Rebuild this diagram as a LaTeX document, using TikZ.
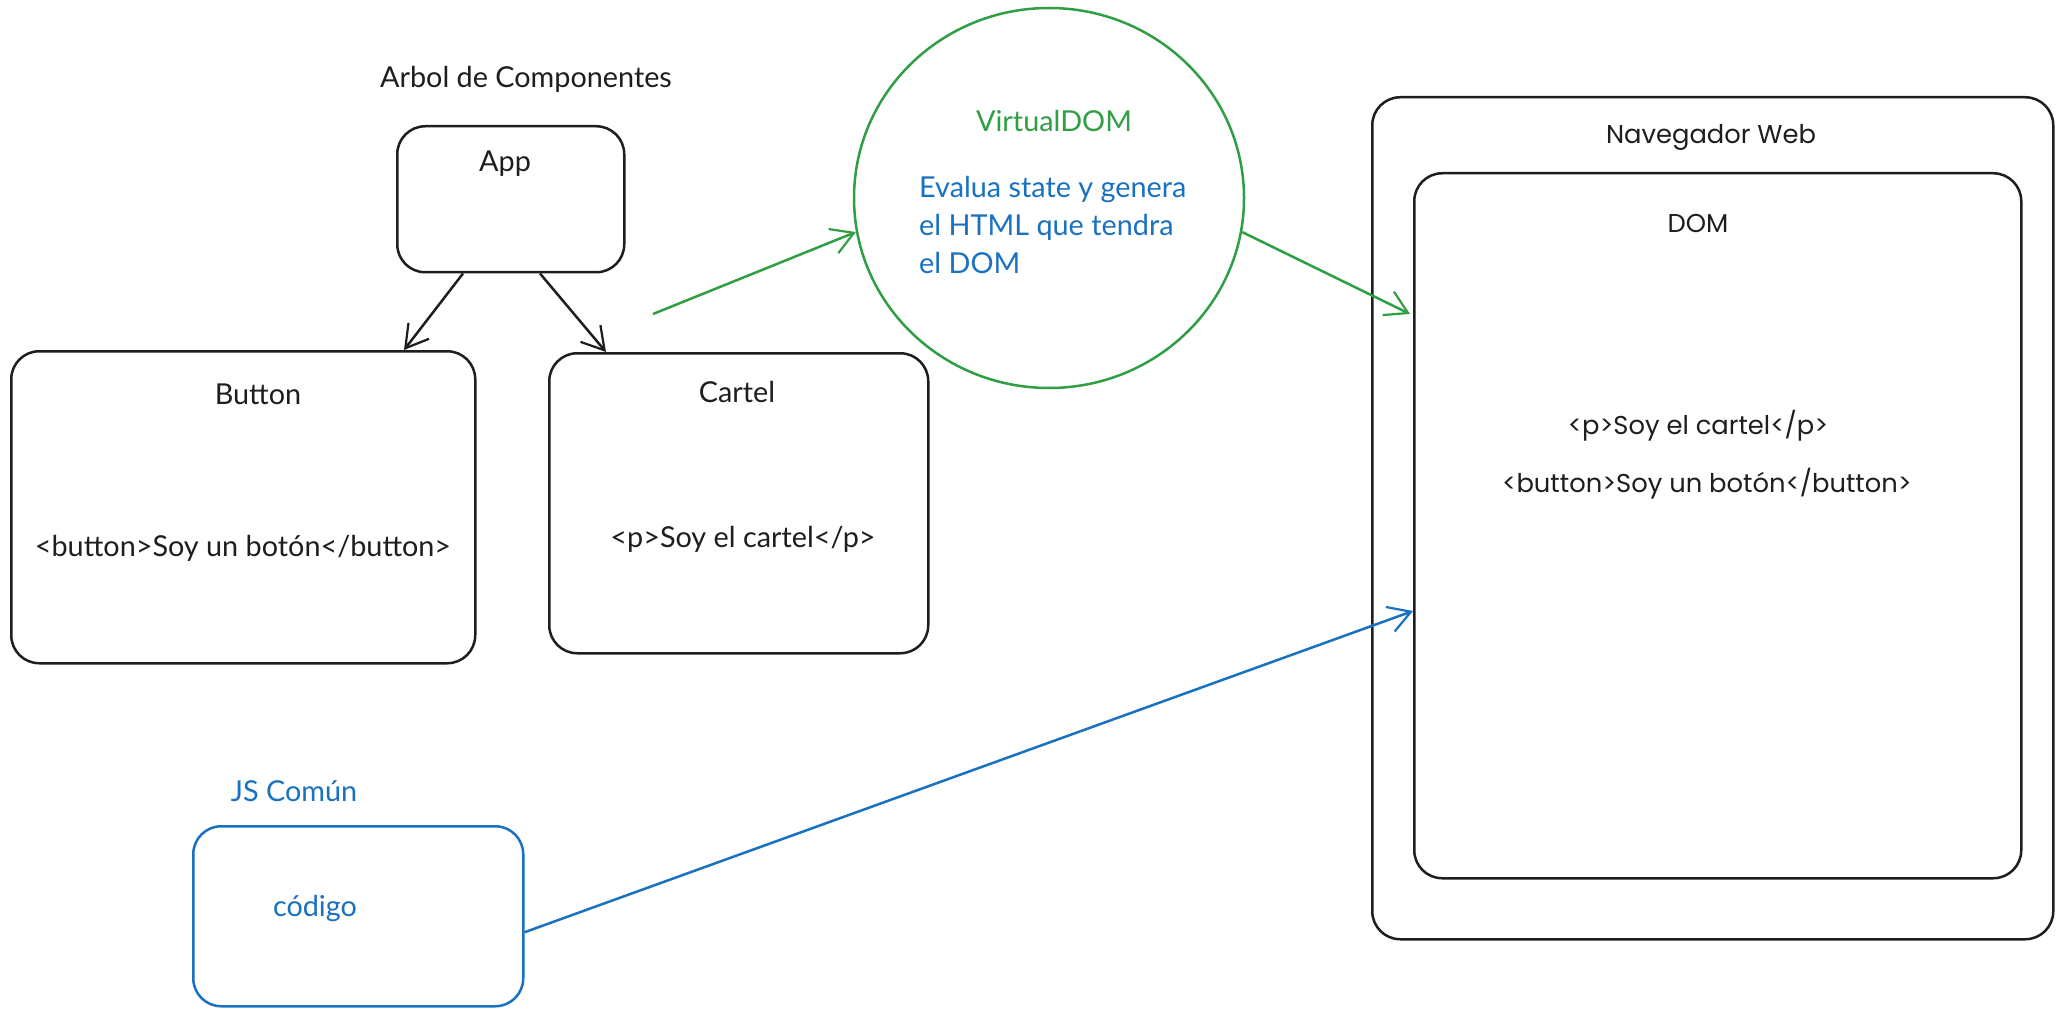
\documentclass[tikz,border=0pt]{standalone}
\usepackage{fontspec}
\setmainfont{Lato}
\newfontfamily\geofont{Poppins}
\usetikzlibrary{arrows.meta,calc,shapes.geometric}
\definecolor{ink}{HTML}{1E1E1E}
\definecolor{exgreen}{HTML}{2F9E44}
\definecolor{exblue}{HTML}{1971C2}
\tikzset{
  box/.style={draw=ink, line width=2.5pt, rounded corners=28pt, anchor=north west, inner sep=0pt},
  bluebox/.style={draw=exblue, line width=2.5pt, rounded corners=28pt, anchor=north west, inner sep=0pt},
  txt/.style={text=ink, font=\fontsize{28.8}{34}\selectfont, inner sep=0pt},
  geotxt/.style={text=ink, font=\geofont\fontsize{25.8}{31}\selectfont, inner sep=0pt},
  conn/.style={line width=2.5pt, -{Straight Barb[length=22pt, width=26pt, line width=2.2pt]}},
}
\begin{document}
\begin{tikzpicture}[x=1pt, y=-1pt]
\useasboundingbox[fill=white] (0,0) rectangle (2061,1016);

% title
\node[txt] (title) at (526,79) {Arbol de Componentes};

% component tree
\node[box, minimum width=227pt, minimum height=146pt] (app) at (396,125) {};
\node[txt] (applbl) at (505,164) {App};

\node[box, minimum width=464pt, minimum height=312pt] (button) at (10,350) {};
\node[txt] (buttonlbl) at (258,394) {Button};
\node[txt] (buttoncode) at (243,548) {<button>Soy un botón</button>};

\node[box, minimum width=379pt, minimum height=300pt] (cartel) at (548,352) {};
\node[txt] (cartellbl) at (737,392) {Cartel};
\node[txt] (cartelcode) at (743,539) {<p>Soy el cartel</p>};

\draw[conn, draw=ink] ($(app.south west)+(67,0)$) -- ($(button.north west)+(394,0)$);
\draw[conn, draw=ink] ($(app.south west)+(144,0)$) -- ($(cartel.north west)+(58,0)$);

% virtual DOM
\node[ellipse, draw=exgreen, line width=2.5pt, minimum width=390pt, minimum height=380pt, inner sep=0pt] (vdom) at (1049,198) {};
\node[txt, text=exgreen] (vdomlbl) at (1054,121) {VirtualDOM};
\node[txt, text=exblue, anchor=west, align=left, font=\fontsize{28.8}{38}\selectfont] (vdomtxt) at (919,225) {Evalua state y genera\\el HTML que tendra\\el DOM};

\coordinate (gstart) at (653,314);
\draw[conn, draw=exgreen] (gstart) -- (vdom.190);

% browser
\node[box, minimum width=681pt, minimum height=842pt] (nav) at (1371,96) {};
\node[geotxt] (navlbl) at (1711,137) {Navegador Web};
\node[box, minimum width=607pt, minimum height=705pt] (dom) at (1413,172) {};
\node[geotxt] (domlbl) at (1698,223) {DOM};
\node[geotxt] (domp) at (1698,426) {<p>Soy el cartel</p>};
\node[geotxt] (dombtn) at (1707,484) {<button>Soy un botón</button>};

\draw[conn, draw=exgreen] (vdom.-10) -- ($(dom.north west)+(-3,142)$);

% JS comun
\node[txt, text=exblue] (jslbl) at (294,791) {JS Común};
\node[bluebox, minimum width=330pt, minimum height=180pt] (code) at (192,825) {};
\node[txt, text=exblue] (codelbl) at (315,909) {código};

\draw[conn, draw=exblue] ($(code.east)+(0,16)$) -- ($(dom.north west)+(0,439)$);
\end{tikzpicture}
\end{document}
